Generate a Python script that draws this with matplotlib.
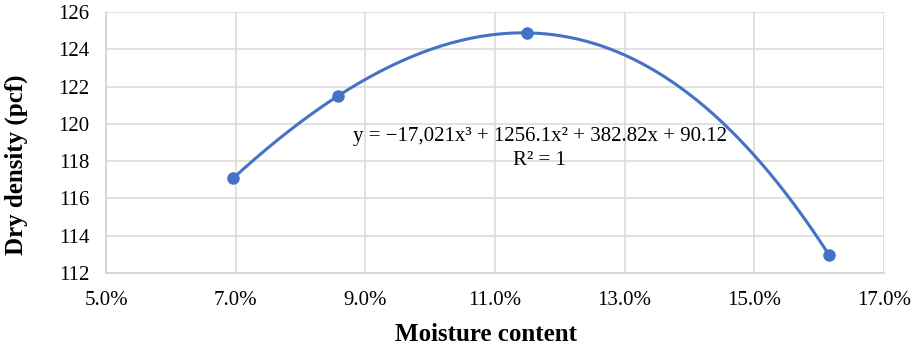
import numpy as np
import matplotlib
matplotlib.use("Agg")
import matplotlib.pyplot as plt
from matplotlib.ticker import FuncFormatter

moisture = [0.0696, 0.0858, 0.1150, 0.1615]
dry_density = [117.08, 121.50, 124.88, 112.98]
x_ticks = [0.05, 0.07, 0.09, 0.11, 0.13, 0.15, 0.17]
y_ticks = [112, 114, 116, 118, 120, 122, 124, 126]
equation = "y = \u221217,021x\u00b3 + 1256.1x\u00b2 + 382.82x + 90.12"
r2_text = "R\u00b2 = 1"

plt.rcParams['font.family'] = ['Liberation Serif', 'DejaVu Serif']

fig = plt.figure(figsize=(9.15, 3.47), dpi=100)
ax = fig.add_axes([106/915, 1 - 273/347, (884-106)/915, (273-12)/347])

coef = np.polyfit(moisture, dry_density, 3)
xs = np.linspace(min(moisture), max(moisture), 300)
ax.plot(xs, np.polyval(coef, xs), color='#4472C4', lw=2.2, zorder=3)
ax.plot(moisture, dry_density, 'o', color='#4472C4', ms=8, zorder=4)

ax.set_xlim(0.05, 0.17)
ax.set_ylim(112, 126)
ax.set_xticks(x_ticks)
ax.set_yticks(y_ticks)
ax.xaxis.set_major_formatter(FuncFormatter(lambda v, p: f"{v*100:.1f}%"))
ax.grid(True, color='#D9D9D9', lw=1.1)
ax.set_axisbelow(True)
for s in ['top', 'right']:
    ax.spines[s].set_visible(False)
for s in ['left', 'bottom']:
    ax.spines[s].set_color('#D0D0D0')
    ax.spines[s].set_linewidth(1.1)
ax.tick_params(length=0, labelsize=15, colors='black')
ax.tick_params(axis='y', pad=12)
ax.tick_params(axis='x', pad=13)

ax.set_xlabel("Moisture content", fontsize=18, fontweight='bold', labelpad=9, x=0.488)
ax.set_ylabel("Dry density (pcf)", fontsize=18, fontweight='bold', labelpad=22, y=0.414)

ax.text(0.1169, 119.3, equation, fontsize=15, ha='center', va='center')
ax.text(0.1169, 118.05, r2_text, fontsize=15, ha='center', va='center')

fig.savefig("out.png", dpi=100)
